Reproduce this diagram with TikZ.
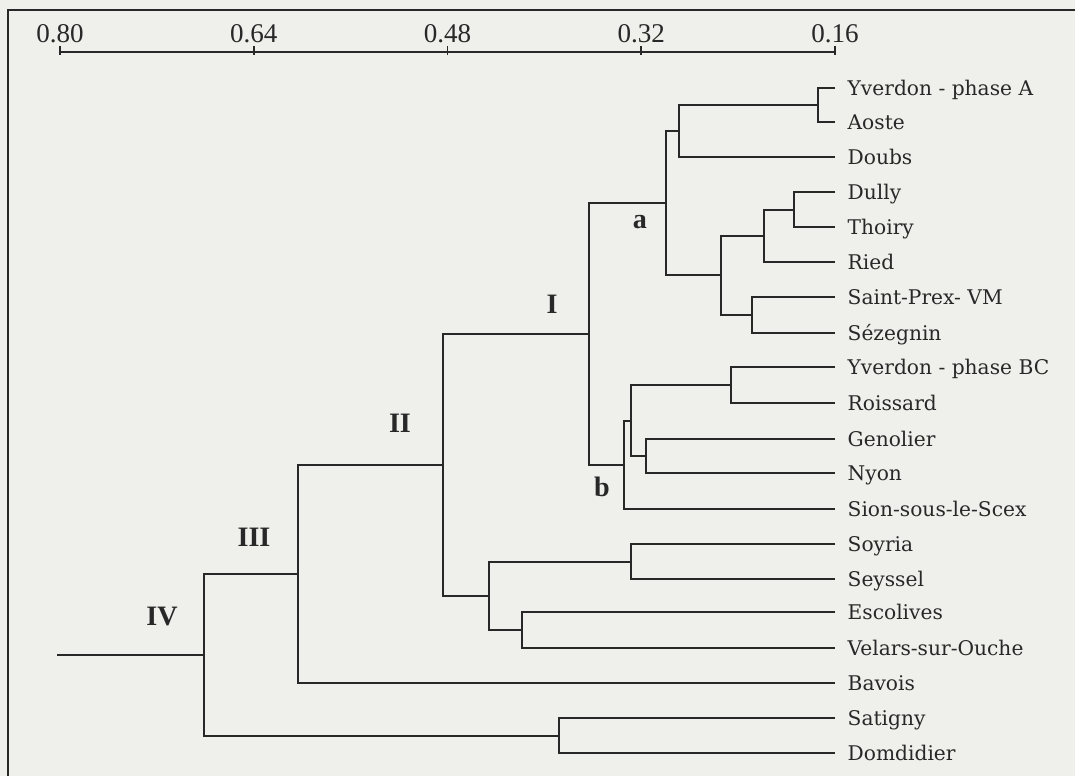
\documentclass[tikz,border=0pt]{standalone}
\usepackage{fontspec}
\setmainfont{Liberation Serif}
\newfontfamily\leaffont{DejaVu Serif}
\usepackage{xcolor}

\definecolor{paper}{RGB}{239,239,236}
\definecolor{ink}{RGB}{40,40,40}

\begin{document}
\begin{tikzpicture}[x=0.02cm, y=-0.02cm,
  branch/.style={draw=ink, line width=1.3pt},
  leaf/.style={anchor=west, inner xsep=7pt, inner ysep=0pt, text height=8.4pt,
    text depth=0pt, font=\leaffont\fontsize{11.5pt}{13pt}\selectfont, text=ink},
  group/.style={font=\bfseries\fontsize{16pt}{18pt}\selectfont, text=ink, inner sep=0pt},
  tick/.style={font=\fontsize{15.4pt}{17pt}\selectfont, text=ink, anchor=base, inner sep=0pt}
]
\fill[paper] (0,0) rectangle (1075,776);
\useasboundingbox (0,0) rectangle (1075,776);
\draw[ink, line width=0.9pt] (1075,10) -- (8,10) -- (8,776);

% distance scale
\draw[ink, line width=0.9pt] (60,52) -- (835,52);
\foreach \v [count=\i from 0] in {0.80,0.64,0.48,0.32,0.16} {
  \node[tick] (sc\i) at (60+193.75*\i,43) {\v};
  \draw[ink, line width=0.9pt] (sc\i.base) ++(0,3) -- ++(0,9);
}

% sites
\node[leaf] (yvA)    at (835,88)  {Yverdon - phase A};
\node[leaf] (aoste)  at (835,122) {Aoste};
\node[leaf] (doubs)  at (835,157) {Doubs};
\node[leaf] (dully)  at (835,192) {Dully};
\node[leaf] (thoiry) at (835,227) {Thoiry};
\node[leaf] (ried)   at (835,262) {Ried};
\node[leaf] (sprex)  at (835,297) {Saint-Prex- VM};
\node[leaf] (sezeg)  at (835,333) {Sézegnin};
\node[leaf] (yvBC)   at (835,367) {Yverdon - phase BC};
\node[leaf] (roiss)  at (835,403) {Roissard};
\node[leaf] (genol)  at (835,439) {Genolier};
\node[leaf] (nyon)   at (835,473) {Nyon};
\node[leaf] (sion)   at (835,509) {Sion-sous-le-Scex};
\node[leaf] (soyria) at (835,544) {Soyria};
\node[leaf] (seyss)  at (835,579) {Seyssel};
\node[leaf] (escol)  at (835,612) {Escolives};
\node[leaf] (velars) at (835,648) {Velars-sur-Ouche};
\node[leaf] (bavois) at (835,683) {Bavois};
\node[leaf] (satig)  at (835,718) {Satigny};
\node[leaf] (domdi)  at (835,753) {Domdidier};

% junctions
\coordinate (jYA)  at (818,105);
\coordinate (jYAD) at (679,131);
\coordinate (jDT)  at (794,210);
\coordinate (jDTR) at (764,236);
\coordinate (jSS)  at (752,315);
\coordinate (jDR)  at (721,275);
\coordinate (ja)   at (666,203);
\coordinate (jYR)  at (731,385);
\coordinate (jGN)  at (646,456);
\coordinate (jYG)  at (631,421);
\coordinate (jb)   at (624,465);
\coordinate (jI)   at (589,334);
\coordinate (jSY)  at (631,562);
\coordinate (jEV)  at (522,630);
\coordinate (jSE)  at (489,596);
\coordinate (jII)  at (443,465);
\coordinate (jIII) at (298,574);
\coordinate (jSD)  at (559,736);
\coordinate (jIV)  at (204,655);
\coordinate (root) at (57,655);

\draw[branch] (yvA.west) -| (jYA) |- (aoste.west);
\draw[branch] (jYA) -| (jYAD) |- (doubs.west);
\draw[branch] (dully.west) -| (jDT) |- (thoiry.west);
\draw[branch] (jDT) -| (jDTR) |- (ried.west);
\draw[branch] (sprex.west) -| (jSS) |- (sezeg.west);
\draw[branch] (jDTR) -| (jDR) |- (jSS);
\draw[branch] (jYAD) -| (ja) |- (jDR);
\draw[branch] (yvBC.west) -| (jYR) |- (roiss.west);
\draw[branch] (genol.west) -| (jGN) |- (nyon.west);
\draw[branch] (jYR) -| (jYG) |- (jGN);
\draw[branch] (jYG) -| (jb) |- (sion.west);
\draw[branch] (ja) -| (jI) |- (jb);
\draw[branch] (soyria.west) -| (jSY) |- (seyss.west);
\draw[branch] (escol.west) -| (jEV) |- (velars.west);
\draw[branch] (jSY) -| (jSE) |- (jEV);
\draw[branch] (jI) -| (jII) |- (jSE);
\draw[branch] (jII) -| (jIII) |- (bavois.west);
\draw[branch] (satig.west) -| (jSD) |- (domdi.west);
\draw[branch] (jIII) -| (jIV) |- (jSD);
\draw[branch] (root) -- (jIV);

% cluster labels
\node[group] (gI)   at (552,304) {I};
\node[group] (gII)  at (400,423) {II};
\node[group] (gIII) at (254,537) {III};
\node[group] (gIV)  at (162,617) {IV};
\node[group] (ga)   at (640,222) {a};
\node[group] (gb)   at (602,487) {b};
\end{tikzpicture}
\end{document}
